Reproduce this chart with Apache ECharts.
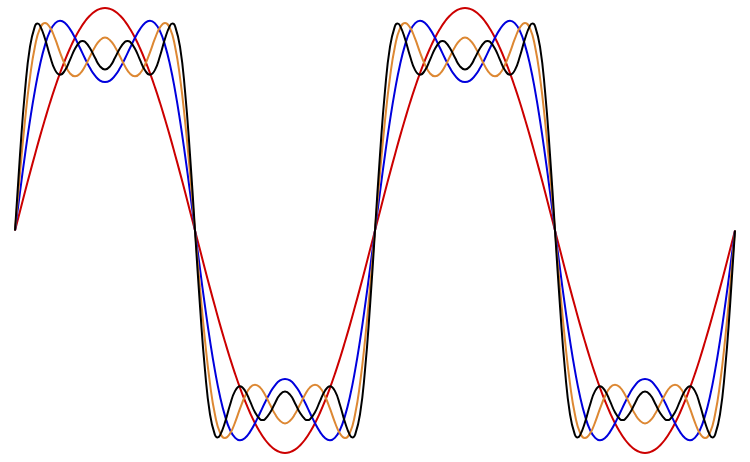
<!DOCTYPE html>
<html>
<head>
<meta charset="utf-8">
<script src="https://cdn.jsdelivr.net/npm/echarts@6/dist/echarts.min.js"></script>
<style>html,body{margin:0;padding:0;background:#fff;}#c{width:750px;height:462px;}</style>
</head>
<body>
<div id="c"></div>
<script>
const angles = [0,5,10,15,20,25,30,35,40,45,50,55,60,65,70,75,80,85,90,95,100,105,110,115,120,125,130,135,140,145,150,155,160,165,170,175,180,185,190,195,200,205,210,215,220,225,230,235,240,245,250,255,260,265,270,275,280,285,290,295,300,305,310,315,320,325,330,335,340,345,350,355,360,365,370,375,380,385,390,395,400,405,410,415,420,425,430,435,440,445,450,455,460,465,470,475,480,485,490,495,500,505,510,515,520,525,530,535,540,545,550,555,560,565,570,575,580,585,590,595,600,605,610,615,620,625,630,635,640,645,650,655,660,665,670,675,680,685,690,695,700,705,710,715,720];

const oneTerm = [0,0.087,0.174,0.259,0.342,0.423,0.5,0.574,0.643,0.707,0.766,0.819,0.866,0.906,0.94,0.966,0.985,0.996,1,
0.996,0.985,0.966,0.94,0.906,0.866,0.819,0.766,0.707,0.643,0.574,0.5,0.423,0.342,0.259,0.174,0.087,0,
-0.087,-0.174,-0.259,-0.342,-0.423,-0.5,-0.574,-0.643,-0.707,-0.766,-0.819,-0.866,-0.906,-0.94,-0.966,-0.985,-0.996,-1,
-0.996,-0.985,-0.966,-0.94,-0.906,-0.866,-0.819,-0.766,-0.707,-0.643,-0.574,-0.5,-0.423,-0.342,-0.259,-0.174,-0.087,0,
0.087,0.174,0.259,0.342,0.423,0.5,0.574,0.643,0.707,0.766,0.819,0.866,0.906,0.94,0.966,0.985,0.996,1,
0.996,0.985,0.966,0.94,0.906,0.866,0.819,0.766,0.707,0.643,0.574,0.5,0.423,0.342,0.259,0.174,0.087,0,
-0.087,-0.174,-0.259,-0.342,-0.423,-0.5,-0.574,-0.643,-0.707,-0.766,-0.819,-0.866,-0.906,-0.94,-0.966,-0.985,-0.996,-1,
-0.996,-0.985,-0.966,-0.94,-0.906,-0.866,-0.819,-0.766,-0.707,-0.643,-0.574,-0.5,-0.423,-0.342,-0.259,-0.174,-0.087,0];

const twoTerms = [0,0.173,0.34,0.495,0.631,0.745,0.833,0.896,0.931,0.943,0.933,0.905,0.866,0.82,0.773,0.73,0.696,0.674,0.667,
0.674,0.696,0.73,0.773,0.82,0.866,0.905,0.933,0.943,0.931,0.896,0.833,0.745,0.631,0.495,0.34,0.173,0,
-0.173,-0.34,-0.495,-0.631,-0.745,-0.833,-0.896,-0.931,-0.943,-0.933,-0.905,-0.866,-0.82,-0.773,-0.73,-0.696,-0.674,-0.667,
-0.674,-0.696,-0.73,-0.773,-0.82,-0.866,-0.905,-0.933,-0.943,-0.931,-0.896,-0.833,-0.745,-0.631,-0.495,-0.34,-0.173,0,
0.173,0.34,0.495,0.631,0.745,0.833,0.896,0.931,0.943,0.933,0.905,0.866,0.82,0.773,0.73,0.696,0.674,0.667,
0.674,0.696,0.73,0.773,0.82,0.866,0.905,0.933,0.943,0.931,0.896,0.833,0.745,0.631,0.495,0.34,0.173,0,
-0.173,-0.34,-0.495,-0.631,-0.745,-0.833,-0.896,-0.931,-0.943,-0.933,-0.905,-0.866,-0.82,-0.773,-0.73,-0.696,-0.674,-0.667,
-0.674,-0.696,-0.73,-0.773,-0.82,-0.866,-0.905,-0.933,-0.943,-0.931,-0.896,-0.833,-0.745,-0.631,-0.495,-0.34,-0.173,0];

const threeTerms = [0,0.258,0.494,0.688,0.828,0.908,0.933,0.913,0.863,0.801,0.745,0.706,0.693,0.705,0.738,0.782,0.825,0.855,0.867,
0.855,0.825,0.782,0.738,0.705,0.693,0.706,0.745,0.801,0.863,0.913,0.933,0.908,0.828,0.688,0.494,0.258,0,
-0.258,-0.494,-0.688,-0.828,-0.908,-0.933,-0.913,-0.863,-0.801,-0.745,-0.706,-0.693,-0.705,-0.738,-0.782,-0.825,-0.855,-0.867,
-0.855,-0.825,-0.782,-0.738,-0.705,-0.693,-0.706,-0.745,-0.801,-0.863,-0.913,-0.933,-0.908,-0.828,-0.688,-0.494,-0.258,0,
0.258,0.494,0.688,0.828,0.908,0.933,0.913,0.863,0.801,0.745,0.706,0.693,0.705,0.738,0.782,0.825,0.855,0.867,
0.855,0.825,0.782,0.738,0.705,0.693,0.706,0.745,0.801,0.863,0.913,0.933,0.908,0.828,0.688,0.494,0.258,0,
-0.258,-0.494,-0.688,-0.828,-0.908,-0.933,-0.913,-0.863,-0.801,-0.745,-0.706,-0.693,-0.705,-0.738,-0.782,-0.825,-0.855,-0.867,
-0.855,-0.825,-0.782,-0.738,-0.705,-0.693,-0.706,-0.745,-0.801,-0.863,-0.913,-0.933,-0.908,-0.828,-0.688,-0.494,-0.258,0];

const blackAngles = [0,5,10,15,20,22.5,25,30,35,40,45,50,55,60,65,67.5,70,75,80,85,90,95,100,105,110,112.5,115,120,125,130,135,140,145,150,155,157.5,160,165,170,175,180,185,190,195,200,202.5,205,210,215,220,225,230,235,240,245,247.5,250,255,260,265,270,275,280,285,290,292.5,295,300,305,310,315,320,325,330,335,337.5,340,345,350,355,360,365,370,375,380,382.5,385,390,395,400,405,410,415,420,425,427.5,430,435,440,445,450,455,460,465,470,472.5,475,480,485,490,495,500,505,510,515,517.5,520,525,530,535,540,545,550,555,560,562.5,565,570,575,580,585,590,595,600,605,607.5,610,615,620,625,630,635,640,645,650,652.5,655,660,665,670,675,680,685,690,695,697.5,700,705,710,715,720];

const fourTerms = [0,0.34,0.628,0.826,0.919,0.93,0.921,0.862,0.784,0.722,0.7,0.72,0.767,0.817,0.848,0.852,0.848,0.819,0.776,0.738,0.724,
0.738,0.776,0.819,0.848,0.852,0.848,0.817,0.767,0.72,0.7,0.722,0.784,0.862,0.921,0.93,0.919,0.826,0.628,0.34,0,
-0.34,-0.628,-0.826,-0.919,-0.93,-0.921,-0.862,-0.784,-0.722,-0.7,-0.72,-0.767,-0.817,-0.848,-0.852,-0.848,-0.819,-0.776,-0.738,-0.724,
-0.738,-0.776,-0.819,-0.848,-0.852,-0.848,-0.817,-0.767,-0.72,-0.7,-0.722,-0.784,-0.862,-0.921,-0.93,-0.919,-0.826,-0.628,-0.34,0,
0.34,0.628,0.826,0.919,0.93,0.921,0.862,0.784,0.722,0.7,0.72,0.767,0.817,0.848,0.852,0.848,0.819,0.776,0.738,0.724,
0.738,0.776,0.819,0.848,0.852,0.848,0.817,0.767,0.72,0.7,0.722,0.784,0.862,0.921,0.93,0.919,0.826,0.628,0.34,0,
-0.34,-0.628,-0.826,-0.919,-0.93,-0.921,-0.862,-0.784,-0.722,-0.7,-0.72,-0.767,-0.817,-0.848,-0.852,-0.848,-0.819,-0.776,-0.738,-0.724,
-0.738,-0.776,-0.819,-0.848,-0.852,-0.848,-0.817,-0.767,-0.72,-0.7,-0.722,-0.784,-0.862,-0.921,-0.93,-0.919,-0.826,-0.628,-0.34,0];

function pairs(xs, ys) { return xs.map(function (x, i) { return [x, ys[i]]; }); }

const chart = echarts.init(document.getElementById('c'), null, {renderer: 'canvas'});
function line(name, xs, ys, color) {
  return {
    name: name, type: 'line', data: pairs(xs, ys), smooth: 0.5, showSymbol: false, symbol: 'none',
    lineStyle: {color: color, width: 2}, itemStyle: {color: color}, animation: false, silent: true
  };
}
chart.setOption({
  backgroundColor: '#ffffff',
  animation: false,
  grid: {left: 15, right: 15, top: 8, bottom: 9, containLabel: false},
  xAxis: {type: 'value', min: 0, max: 720, show: false},
  yAxis: {type: 'value', min: -1, max: 1, show: false},
  series: [
    line('1 term', angles, oneTerm, '#cc0000'),
    line('2 terms', angles, twoTerms, '#0000dd'),
    line('3 terms', angles, threeTerms, '#dd8833'),
    line('4 terms', blackAngles, fourTerms, '#000000')
  ]
});
</script>
</body>
</html>
